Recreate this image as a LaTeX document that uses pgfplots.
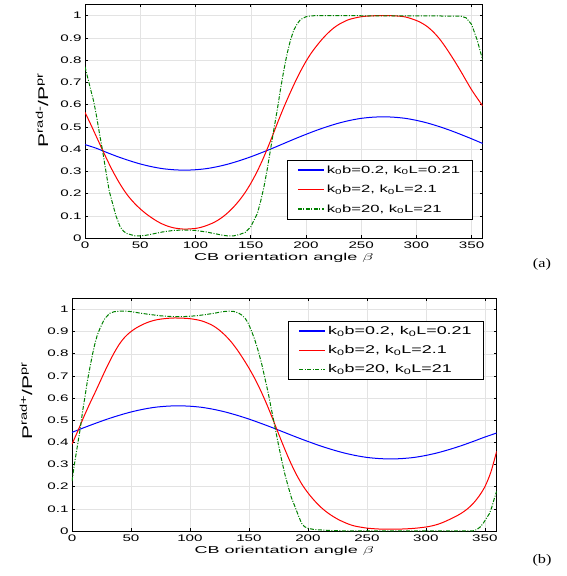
\documentclass[border=0pt]{standalone}
\usepackage{fontspec}
\setmainfont{Liberation Sans}[FakeStretch=1.6]
\newfontfamily\xlfont{Liberation Sans}[FakeStretch=1.8]
\newfontfamily\ylfont{Liberation Sans}[FakeStretch=1.5]
\newfontfamily\capfont{Liberation Serif}[FakeStretch=1.25]
\usepackage{graphicx}
\usepackage{pgfplots}
\pgfplotsset{compat=1.18}
\usepackage{pgfplotstable}

\definecolor{mgreen}{rgb}{0,0.5,0}

% panel (a)
\pgfplotstableread{
b v
0 0.420
10 0.404
20 0.384
30 0.365
40 0.348
50 0.333
60 0.321
70 0.312
80 0.307
90 0.305
100 0.307
110 0.312
120 0.321
130 0.333
140 0.348
150 0.365
160 0.384
170 0.404
180 0.425
190 0.446
200 0.466
210 0.485
220 0.502
230 0.517
240 0.529
250 0.538
260 0.543
270 0.545
280 0.543
290 0.538
300 0.529
310 0.517
320 0.502
330 0.485
340 0.466
350 0.446
360 0.425
}\blueA
\pgfplotstableread{
b v
0 0.565
5 0.513
10 0.459
15 0.405
20 0.352
25 0.302
30 0.257
35 0.217
40 0.183
45 0.155
50 0.131
55 0.110
60 0.092
65 0.076
70 0.063
75 0.053
80 0.046
85 0.042
90 0.040
95 0.041
100 0.043
105 0.048
110 0.056
115 0.066
120 0.079
125 0.096
130 0.117
135 0.142
140 0.171
145 0.205
150 0.245
155 0.291
160 0.343
165 0.401
170 0.463
175 0.527
180 0.588
185 0.645
190 0.699
195 0.749
200 0.794
205 0.833
210 0.866
215 0.896
220 0.922
225 0.944
230 0.961
235 0.974
240 0.984
250 0.995
260 0.999
270 1.0
280 0.999
290 0.994
300 0.978
305 0.966
310 0.950
315 0.928
320 0.901
325 0.868
330 0.831
335 0.792
340 0.751
345 0.708
350 0.666
355 0.629
360 0.594
}\redA
\pgfplotstableread{
b v
0 0.77
3 0.71
6 0.65
7.6 0.62
10 0.56
13.6 0.456
16 0.39
19.7 0.276
22 0.21
25.8 0.14
28 0.10
31.8 0.05
35 0.03
37.9 0.02
45 0.010
50 0.009
55 0.012
60 0.017
70 0.027
80 0.034
90 0.036
100 0.034
110 0.027
120 0.017
125 0.012
130 0.009
135 0.010
140 0.016
145 0.025
150 0.05
153 0.08
156 0.11
159 0.165
162 0.23
165 0.31
168 0.40
171 0.49
174 0.575
177 0.67
180 0.755
183 0.83
186 0.89
189 0.935
192 0.962
195 0.982
200 0.995
205 0.999
210 1.0
340 0.998
345 0.99
350 0.96
355 0.89
360 0.80
}\greenA

% panel (b)
\pgfplotstableread{
b v
0 0.445
10 0.466
20 0.486
30 0.505
40 0.522
50 0.537
60 0.549
70 0.558
80 0.563
90 0.565
100 0.563
110 0.558
120 0.549
130 0.537
140 0.522
150 0.505
160 0.486
170 0.466
180 0.445
190 0.424
200 0.404
210 0.385
220 0.368
230 0.353
240 0.341
250 0.332
260 0.327
270 0.325
280 0.327
290 0.332
300 0.341
310 0.353
320 0.368
330 0.385
340 0.404
350 0.424
360 0.442
}\blueB
\pgfplotstableread{
b v
0 0.392
5 0.452
10 0.515
15 0.574
20 0.630
25 0.688
30 0.745
35 0.797
40 0.842
45 0.876
50 0.900
55 0.918
60 0.932
65 0.943
70 0.951
75 0.956
80 0.959
85 0.961
90 0.961
95 0.960
100 0.958
105 0.954
110 0.948
115 0.938
120 0.925
125 0.906
130 0.882
135 0.853
140 0.818
145 0.778
150 0.735
155 0.687
160 0.633
165 0.573
170 0.508
175 0.440
180 0.374
185 0.312
190 0.257
195 0.210
200 0.172
205 0.140
210 0.112
215 0.089
220 0.070
225 0.054
230 0.041
235 0.030
240 0.022
250 0.013
260 0.009
270 0.008
280 0.009
290 0.012
300 0.018
305 0.023
310 0.030
315 0.040
320 0.052
325 0.065
330 0.080
335 0.099
340 0.124
345 0.157
350 0.200
355 0.265
360 0.360
}\redB
\pgfplotstableread{
b v
0 0.225
2 0.30
4 0.365
6.8 0.456
9 0.54
11 0.606
13 0.675
15.3 0.741
17.5 0.80
19.5 0.847
21.5 0.885
23.7 0.914
26 0.94
28 0.96
32 0.982
36 0.99
41 0.992
46 0.992
50 0.99
58 0.983
66 0.977
75 0.971
83 0.968
90 0.967
97 0.968
105 0.971
114 0.977
122 0.984
128 0.99
133 0.992
137 0.991
141 0.984
144 0.974
147 0.958
149.4 0.937
152 0.905
155 0.862
158 0.81
160.7 0.756
163.5 0.69
166.4 0.621
169 0.55
172 0.47
175 0.39
177.7 0.32
180.5 0.255
183.3 0.20
186 0.15
189 0.11
192 0.068
194.6 0.035
197 0.02
200 0.012
205 0.007
210 0.005
220 0.002
230 0.001
340 0.001
343 0.006
346 0.018
348.6 0.035
351 0.055
354 0.08
356 0.11
358 0.147
360 0.18
}\greenB

\pgfplotsset{
  panel/.style={
    scale only axis,
    anchor=south west,
    xmin=0, xmax=360, ymin=0, ymax=1.05,
    xtick={0,50,100,150,200,250,300,350},
    ytick={0,0.1,0.2,0.3,0.4,0.5,0.6,0.7,0.8,0.9,1},
    tick pos=both,
    tick align=inside,
    major tick length=3pt,
    axis line style={line width=0.8pt},
    every tick/.style={black, line width=0.5pt},
    grid=major,
    major grid style={gray!22, line width=0.4pt},
    /pgf/number format/assume math mode=true,
    ticklabel style={font=\fontsize{9.5}{11}\selectfont},
    xlabel style={font=\xlfont\fontsize{10}{12}\selectfont, at={(axis description cs:0.5,0)}, anchor=base, yshift=-23pt},
    ylabel style={font=\ylfont\fontsize{14}{16}\selectfont, anchor=base},
    xlabel={CB orientation angle \scalebox{1.8}[1]{$\beta$}},
    legend cell align=left,
    legend style={font=\fontsize{10.4}{12}\selectfont, draw=black, line width=0.6pt, fill=white,
      row sep=6.5pt, inner xsep=10pt, inner ysep=3.5pt},
    legend image code/.code={\draw[#1, line width=1.6pt] (0pt,0pt) -- (26pt,0pt);},
  },
  bl/.style={blue, line width=1pt, smooth},
  rl/.style={red, line width=1pt, smooth},
  gl/.style={mgreen, line width=1pt, dash pattern=on 4pt off 1.5pt on 1pt off 1.5pt},
}

\begin{document}
\begin{tikzpicture}
\useasboundingbox (0,0) rectangle (567pt,576pt);
\begin{axis}[panel, at={(85pt,338pt)}, width=397.7pt, height=233.5pt,
  ylabel={P\textsuperscript{rad-}/P\textsuperscript{pr}},
  ylabel style={at={(axis description cs:-0.093,0.548)}},
  legend style={at={(0.974,0.335)}, anchor=north east}]
\addplot[bl] table[x=b, y=v] {\blueA};
\addplot[rl] table[x=b, y=v] {\redA};
\addplot[gl] table[x=b, y=v] {\greenA};
\legend{{k\textsubscript{0}b=0.2, k\textsubscript{0}L=0.21}, {k\textsubscript{0}b=2, k\textsubscript{0}L=2.1}, {k\textsubscript{0}b=20, k\textsubscript{0}L=21}}
\end{axis}
\begin{axis}[panel, at={(72pt,45pt)}, width=424.7pt, height=232.7pt,
  ylabel={P\textsuperscript{rad+}/P\textsuperscript{pr}},
  ylabel style={at={(axis description cs:-0.094,0.559)}},
  legend style={at={(0.970,0.904)}, anchor=north east, font=\fontsize{11.2}{12}\selectfont, row sep=5.5pt}]
\addplot[bl] table[x=b, y=v] {\blueB};
\addplot[rl] table[x=b, y=v] {\redB};
\addplot[gl] table[x=b, y=v] {\greenB};
\legend{{k\textsubscript{0}b=0.2, k\textsubscript{0}L=0.21}, {k\textsubscript{0}b=2, k\textsubscript{0}L=2.1}, {k\textsubscript{0}b=20, k\textsubscript{0}L=21}}
\end{axis}
\node[font=\capfont\fontsize{13}{15}\selectfont] at (542pt,312pt) {(a)};
\node[font=\capfont\fontsize{13}{15}\selectfont] at (542pt,16pt) {(b)};
\end{tikzpicture}
\end{document}
